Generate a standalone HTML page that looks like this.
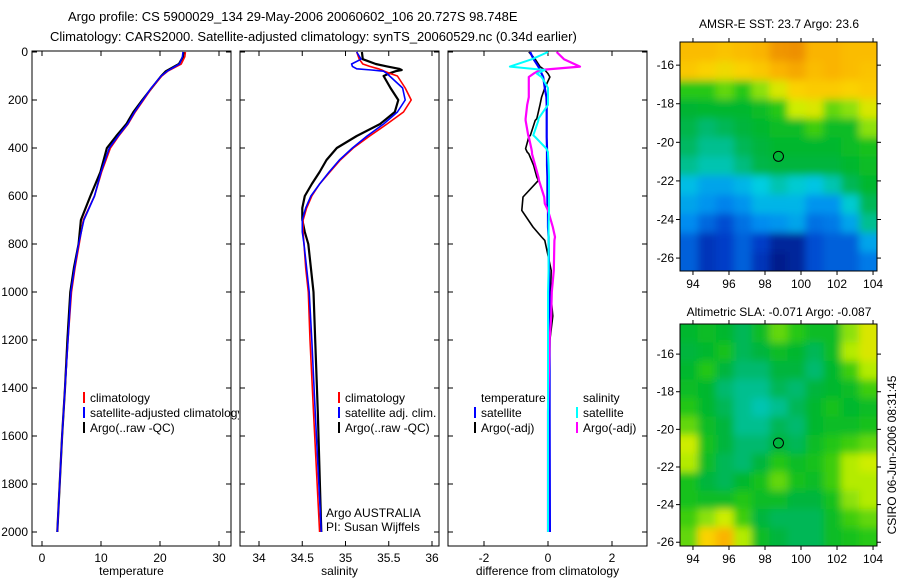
<!DOCTYPE html>
<html><head><meta charset="utf-8"><style>
html,body{margin:0;padding:0;background:#fff;}
svg{display:block;font-family:"Liberation Sans",Arial,sans-serif;}
text{fill:#000;}
</style></head><body>
<svg id="c" width="900" height="580" xmlns="http://www.w3.org/2000/svg">
<defs>
<filter id="blur" x="-5%" y="-5%" width="110%" height="110%"><feGaussianBlur stdDeviation="4"/></filter>
<clipPath id="cm1"><rect x="680" y="42" width="197" height="229"/></clipPath>
<clipPath id="cm2"><rect x="680" y="324" width="197" height="222"/></clipPath>
<clipPath id="cl1"><rect x="0" y="0" width="239" height="580"/></clipPath>
</defs>
<text x="68" y="21" font-size="13">Argo profile: CS 5900029_134 29-May-2006 20060602_106 20.727S 98.748E</text>
<text x="50" y="41" font-size="13">Climatology: CARS2000. Satellite-adjusted climatology: synTS_20060529.nc (0.34d earlier)</text>
<text x="779" y="28" font-size="12" text-anchor="middle">AMSR-E SST: 23.7 Argo: 23.6</text>
<text x="779" y="316" font-size="12" text-anchor="middle">Altimetric SLA: -0.071 Argo: -0.087</text>
<text transform="translate(896,455) rotate(-90)" font-size="12" text-anchor="middle">CSIRO 06-Jun-2006 08:31:45</text>
<g id="g"></g>
</svg>
<script>
// ---- profile data ----
const depthClim = [0,20,50,80,100,150,200,250,300,350,400,500,600,700,800,900,1000,1200,1400,1600,1800,2000];
const tempClim = [24.3,24.2,23.6,21.3,20.3,18.6,17.2,15.8,14.6,13.0,11.6,10.1,8.9,7.0,6.3,5.6,5.0,4.4,3.9,3.4,3.0,2.6];
const tempSat  = [23.9,23.8,23.3,21.2,20.2,18.5,17.1,15.7,14.5,12.9,11.4,10.0,8.9,7.1,6.2,5.5,4.9,4.4,3.9,3.4,3.0,2.6];
const tempArgo = [24.0,23.9,23.2,21.0,20.2,18.6,17.0,15.5,14.3,12.6,11.0,9.9,8.2,6.6,6.2,5.4,4.8,4.3,3.9,3.4,3.0,2.6];
const depthSal = [0,30,50,60,70,75,80,90,100,150,200,250,300,350,400,450,500,550,600,650,700,750,800,900,1000,1200,1500,2000];
const salClim = [35.13,35.16,35.20,35.28,35.38,35.42,35.45,35.52,35.60,35.69,35.76,35.67,35.48,35.28,35.09,34.94,34.82,34.70,34.61,34.55,34.51,34.51,34.52,34.54,34.57,34.59,34.63,34.70];
const salSat  = [35.13,35.18,35.07,35.08,35.13,35.30,35.44,35.48,35.51,35.66,35.69,35.60,35.44,35.25,35.08,34.93,34.81,34.70,34.60,34.54,34.50,34.50,34.52,34.55,34.58,34.61,34.65,34.72];
const salArgo = [35.19,35.20,35.35,35.48,35.62,35.65,35.58,35.50,35.44,35.52,35.61,35.57,35.40,35.13,34.90,34.78,34.70,34.61,34.53,34.50,34.50,34.53,34.57,34.60,34.63,34.65,34.68,34.72];
const depthDiff = [0,30,61,75,90,104,150,188,220,278,285,347,354,403,417,424,472,521,535,604,632,660,729,771,785,910,1000,1100,1200,1500,2000];
const dTempSat  = [-0.56,-0.45,-0.3,-0.25,-0.2,-0.15,-0.1,-0.05,-0.04,-0.04,-0.04,-0.04,-0.04,-0.03,-0.03,-0.03,-0.03,-0.02,-0.02,-0.02,-0.02,0,0,0.02,0.02,0.03,0.04,0.05,0.05,0.05,0.06];
const dTempArgo = [-0.6,-0.4,-0.25,-0.1,0.0,0.06,-0.1,-0.2,-0.25,-0.35,-0.4,-0.55,-0.6,-0.7,-0.65,-0.6,-0.45,-0.35,-0.3,-0.78,-0.8,-0.82,-0.47,-0.2,-0.1,0.1,0.08,0.15,0.06,0.03,0.0];
const dSalSat   = [0.0,-0.5,-1.19,-0.1,-0.35,-0.2,0.0,0.0,0.0,-0.3,-0.3,-0.46,-0.4,-0.05,0.0,0.0,0.02,0.03,0.03,0.03,0.03,0.03,0.02,0.02,0.02,0.02,0.0,0.0,0.0,0.0,0.0];
const dSalArgo  = [0.27,0.5,1.0,-0.25,-0.45,-0.6,-0.6,-0.6,-0.65,-0.7,-0.7,-0.62,-0.6,-0.52,-0.5,-0.5,-0.4,-0.3,-0.28,-0.12,-0.1,0.0,0.15,0.22,0.2,0.18,0.12,0.1,0.05,0.0,0.0];
const depthTicks = [0,200,400,600,800,1000,1200,1400,1600,1800,2000];
const tempTicks = [0,10,20,30];
const salTicks = [34,34.5,35,35.5,36];
const diffTicks = [-2,0,2];
// ---- map data ----
const sstGrid = [
[0.78,0.78,0.76,0.78,0.80,0.85,0.86,0.80,0.80,0.78,0.78],
[0.75,0.72,0.70,0.72,0.75,0.80,0.82,0.78,0.80,0.78,0.76],
[0.55,0.55,0.58,0.55,0.60,0.66,0.72,0.74,0.74,0.72,0.74],
[0.47,0.48,0.48,0.48,0.50,0.55,0.64,0.66,0.58,0.60,0.66],
[0.45,0.42,0.44,0.46,0.48,0.50,0.50,0.56,0.50,0.50,0.60],
[0.43,0.40,0.40,0.44,0.46,0.48,0.48,0.48,0.48,0.50,0.52],
[0.40,0.38,0.38,0.41,0.45,0.46,0.46,0.46,0.46,0.48,0.50],
[0.33,0.30,0.30,0.32,0.35,0.38,0.36,0.34,0.38,0.44,0.48],
[0.30,0.28,0.26,0.28,0.32,0.32,0.32,0.28,0.28,0.36,0.44],
[0.27,0.23,0.20,0.24,0.27,0.28,0.30,0.24,0.25,0.30,0.40],
[0.22,0.16,0.18,0.22,0.18,0.12,0.12,0.20,0.22,0.22,0.30],
[0.22,0.16,0.18,0.22,0.16,0.10,0.12,0.20,0.22,0.22,0.25]];
const slaGrid = [
[0.48,0.50,0.48,0.44,0.50,0.58,0.55,0.50,0.50,0.60,0.66],
[0.46,0.48,0.52,0.44,0.46,0.50,0.48,0.44,0.50,0.62,0.66],
[0.48,0.54,0.46,0.42,0.42,0.46,0.46,0.42,0.48,0.56,0.62],
[0.50,0.48,0.42,0.40,0.40,0.44,0.42,0.46,0.48,0.50,0.56],
[0.54,0.48,0.44,0.40,0.38,0.40,0.44,0.48,0.52,0.48,0.50],
[0.58,0.50,0.46,0.40,0.40,0.44,0.42,0.48,0.50,0.50,0.52],
[0.64,0.52,0.46,0.42,0.42,0.46,0.44,0.50,0.54,0.56,0.58],
[0.62,0.50,0.44,0.42,0.46,0.54,0.50,0.52,0.56,0.62,0.64],
[0.52,0.46,0.44,0.48,0.52,0.58,0.52,0.50,0.56,0.62,0.62],
[0.52,0.50,0.50,0.54,0.50,0.50,0.46,0.46,0.52,0.60,0.62],
[0.56,0.60,0.64,0.56,0.46,0.44,0.44,0.44,0.50,0.56,0.58],
[0.58,0.72,0.80,0.62,0.50,0.46,0.44,0.44,0.50,0.52,0.55]];
const lonRange = [93.28,104.22];
const latRange1 = [-14.8,-26.67];
const latRange2 = [-14.4,-26.2];
const lonTicks = [94,96,98,100,102,104];
const latTicks = [-16,-18,-20,-22,-24,-26];
const floatPos = [98.748,-20.727];

const NS="http://www.w3.org/2000/svg";
const G=document.getElementById('g');
function mk(tag,attrs,parent){const e=document.createElementNS(NS,tag);for(const k in attrs)e.setAttribute(k,attrs[k]);(parent||G).appendChild(e);return e;}
function txt(x,y,s,size,anchor,parent){const t=mk('text',{x:x,y:y,'font-size':size||12,'text-anchor':anchor||'start'},parent);t.textContent=s;return t;}

const yD=d=>52+d*0.24;
const panels=[
 {x0:32,x1:231,f:v=>42+v*5.9,ticks:tempTicks,lab:'temperature',name:'temperature-panel'},
 {x0:240,x1:439,f:v=>259+(v-34)*86.5,ticks:salTicks,lab:'salinity',name:'salinity-panel'},
 {x0:448,x1:647,f:v=>548+v*32,ticks:diffTicks,lab:'difference from climatology',name:'difference-panel'}];
const yT=51,yB=546;
panels.forEach((p,i)=>{
 const g=mk('g',{});
 
 
 p.g=g;
 const r=mk('rect',{x:p.x0,y:yT,width:p.x1-p.x0,height:yB-yT,fill:'#fff',stroke:'#000','stroke-width':1},g);
 
 
 depthTicks.forEach(d=>{const y=yD(d);
  mk('line',{x1:p.x0,x2:p.x0+5,y1:y,y2:y,stroke:'#000'},g);
  mk('line',{x1:p.x1-5,x2:p.x1,y1:y,y2:y,stroke:'#000'},g);
  if(i===0){const t=txt(p.x0-4,y+4,String(d),12,'end',g);}
 });
 p.ticks.forEach(v=>{const x=p.f(v);
  mk('line',{x1:x,x2:x,y1:yB-5,y2:yB,stroke:'#000'},g);
  mk('line',{x1:x,x2:x,y1:yT,y2:yT+5,stroke:'#000'},g);
  const t=txt(x,yB+16,String(v),12,'middle',g);
  
  
 });
 const al=txt((p.x0+p.x1)/2,575,p.lab,12,'middle',g);
 
 
});
function line(p,depths,vals,color,w,name){
 const pts=depths.map((d,k)=>p.f(vals[k]).toFixed(1)+','+yD(d).toFixed(1)).join(' ');
 const e=mk('polyline',{points:pts,fill:'none',stroke:color,'stroke-width':w,'stroke-linejoin':'round'},p.g);
 
 
}
line(panels[0],depthClim,tempArgo,'#000',2.2,'temp-argo-line');
line(panels[0],depthClim,tempClim,'#f00',1.6,'temp-climatology-line');
line(panels[0],depthClim,tempSat,'#00f',1.6,'temp-satellite-line');
line(panels[1],depthSal,salArgo,'#000',2.2,'sal-argo-line');
line(panels[1],depthSal,salClim,'#f00',1.6,'sal-climatology-line');
line(panels[1],depthSal,salSat,'#00f',1.6,'sal-satellite-line');
line(panels[2],depthDiff,dTempArgo,'#000',1.6,'diff-temp-argo-line');
line(panels[2],depthDiff,dTempSat,'#00f',2.2,'diff-temp-satellite-line');
line(panels[2],depthDiff,dSalArgo,'#f0f',2.2,'diff-sal-argo-line');
line(panels[2],depthDiff,dSalSat,'#0ff',2,'diff-sal-satellite-line');

function leg(x,y,color,label,parent,clip){
 const g=mk('g',clip?{'clip-path':'url(#cl1)'}:{},parent);
 
 
 if(color)mk('line',{x1:x,x2:x,y1:y-6,y2:y+5,stroke:color,'stroke-width':2},g);
 txt(x+6,y+4,label,12,'start',g);
}
leg(84,398,'#f00','climatology',G,true);
leg(84,413,'#00f','satellite-adjusted climatology',G,true);
leg(84,428,'#000','Argo(..raw -QC)',G,true);
leg(339,398,'#f00','climatology');
leg(339,413,'#00f','satellite adj. clim.');
leg(339,428,'#000','Argo(..raw -QC)');
txt(326,517,'Argo AUSTRALIA');
txt(326,531,'PI: Susan Wijffels');
leg(475,398,null,'temperature');
leg(475,413,'#00f','satellite');
leg(475,428,'#000','Argo(-adj)');
leg(577,398,null,'salinity');
leg(577,413,'#0ff','satellite');
leg(577,428,'#f0f','Argo(-adj)');

// ---- maps ----
const stops=[[0.10,[0,30,140]],[0.18,[0,60,200]],[0.27,[0,140,240]],[0.35,[0,205,225]],[0.42,[0,185,110]],[0.47,[0,180,50]],[0.55,[40,200,20]],[0.63,[200,240,0]],[0.72,[250,210,0]],[0.80,[250,180,0]],[0.90,[230,120,0]]];
function cmap(v){
 if(v<=stops[0][0])return 'rgb('+stops[0][1]+')';
 for(let k=1;k<stops.length;k++){if(v<=stops[k][0]){const a=stops[k-1],b=stops[k],t=(v-a[0])/(b[0]-a[0]);
  return 'rgb('+a[1].map((c,j)=>Math.round(c+(b[1][j]-c)*t)).join(',')+')';}}
 return 'rgb('+stops[stops.length-1][1]+')';
}
function drawMap(grid,latR,top,bot,clip,name){
 const x0=680,x1=877;
 const fx=lon=>x0+(lon-lonRange[0])/(lonRange[1]-lonRange[0])*(x1-x0);
 const fy=lat=>top+(lat-latR[0])/(latR[1]-latR[0])*(bot-top);
 const g=mk('g',{});
 
 
 const cg=mk('g',{'clip-path':'url(#'+clip+')'},g);
 const cells=mk('g',{filter:'url(#blur)'},cg);
 const nr=grid.length,nc=grid[0].length;
 const dLon=(lonRange[1]-lonRange[0])/nc, dLat=(latR[1]-latR[0])/nr;
 grid.forEach((row,r)=>row.forEach((v,c)=>{
  let xa=fx(lonRange[0]+c*dLon), xb=fx(lonRange[0]+(c+1)*dLon);
  let ya=fy(latR[0]+r*dLat), yb=fy(latR[0]+(r+1)*dLat);
  if(c===0)xa-=20; if(c===nc-1)xb+=20; if(r===0)ya-=20; if(r===nr-1)yb+=20;
  const e=mk('rect',{x:xa.toFixed(1),y:ya.toFixed(1),width:(xb-xa+0.5).toFixed(1),height:(yb-ya+0.5).toFixed(1),fill:cmap(v)},cells);
  
  
 }));
 mk('rect',{x:x0,y:top,width:x1-x0,height:bot-top,fill:'none',stroke:'#000'},g);
 lonTicks.forEach(l=>{const x=fx(l);
  mk('line',{x1:x,x2:x,y1:bot,y2:bot+4,stroke:'#000'},g);
  mk('line',{x1:x,x2:x,y1:top-4,y2:top,stroke:'#000'},g);
  const t=txt(x,bot+17,String(l),12,'middle',g);
 });
 latTicks.forEach(l=>{const y=fy(l);
  mk('line',{x1:x0-4,x2:x0,y1:y,y2:y,stroke:'#000'},g);
  mk('line',{x1:x1,x2:x1+4,y1:y,y2:y,stroke:'#000'},g);
  const t=txt(x0-6,y+4,String(l),12,'end',g);
 });
 const c=mk('circle',{cx:fx(floatPos[0]),cy:fy(floatPos[1]),r:5,fill:'none',stroke:'#000','stroke-width':1},g);
 
 
}
drawMap(sstGrid,latRange1,42,271,'cm1','sst-map');
drawMap(slaGrid,latRange2,324,546,'cm2','sla-map');
</script>
</body></html>
